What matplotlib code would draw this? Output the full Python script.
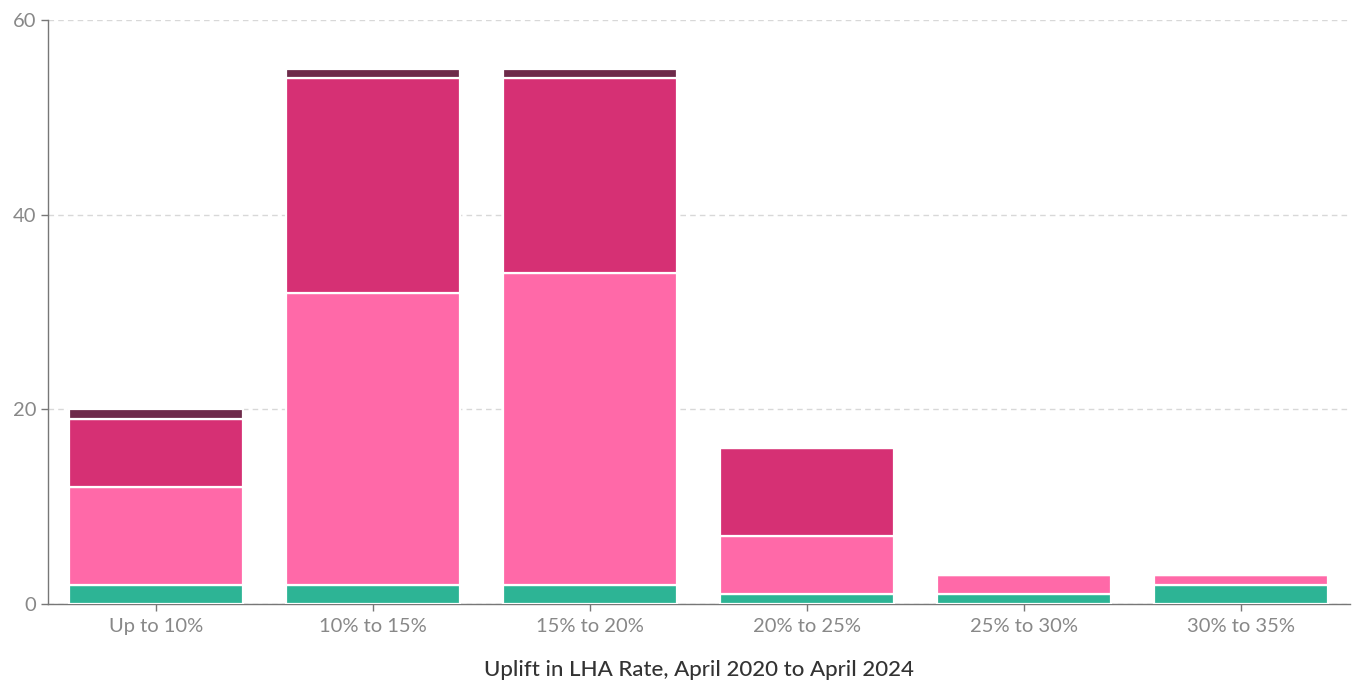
import matplotlib
matplotlib.use("Agg")
import matplotlib.pyplot as plt
import numpy as np

categories = ["Up to 10%", "10% to 15%", "15% to 20%", "20% to 25%", "25% to 30%", "30% to 35%"]
series_teal = [2, 2, 2, 1, 1, 2]
series_pink = [10, 30, 32, 6, 2, 1]
series_magenta = [7, 22, 20, 9, 0, 0]
series_dark = [1, 1, 1, 0, 0, 0]
yticks = [0, 20, 40, 60]
xlabel = "Uplift in LHA Rate, April 2020 to April 2024"

colors = ["#2db495", "#ff69a8", "#d63074", "#6e2a4a"]

plt.rcParams['font.family'] = ['Lato', 'DejaVu Sans']

fig = plt.figure(figsize=(13.52, 6.83), dpi=100)
ax = fig.add_axes([47.5/1352, 79/683, (1349.5-47.5)/1352, (604-20)/683])

x = np.arange(len(categories))
bottom = np.zeros(len(categories))
for vals, c in zip([series_teal, series_pink, series_magenta, series_dark], colors):
    v = np.array(vals, dtype=float)
    ax.bar(x, v, bottom=bottom, width=0.8, color=c, edgecolor="white", linewidth=1.6, zorder=3)
    bottom += v

ax.set_xlim(-0.5, len(categories) - 0.5)
ax.set_ylim(0, 60)
ax.set_yticks(yticks)
ax.set_xticks(x)
ax.set_xticklabels(categories)
ax.tick_params(axis='both', colors="#777777", labelsize=14.5, length=5, width=1, labelcolor="#888888")
ax.tick_params(axis='x', pad=5)
ax.tick_params(axis='y', pad=3)
ax.yaxis.grid(True, linestyle=(0, (4, 3)), color="#d8d8d8", linewidth=1, zorder=0)
for s in ["top", "right"]:
    ax.spines[s].set_visible(False)
for s in ["left", "bottom"]:
    ax.spines[s].set_color("#777777")
    ax.spines[s].set_linewidth(1)
ax.set_xlabel(xlabel, fontsize=16, color="#333333", labelpad=18, fontweight="medium")

fig.savefig("out.png", dpi=100)
